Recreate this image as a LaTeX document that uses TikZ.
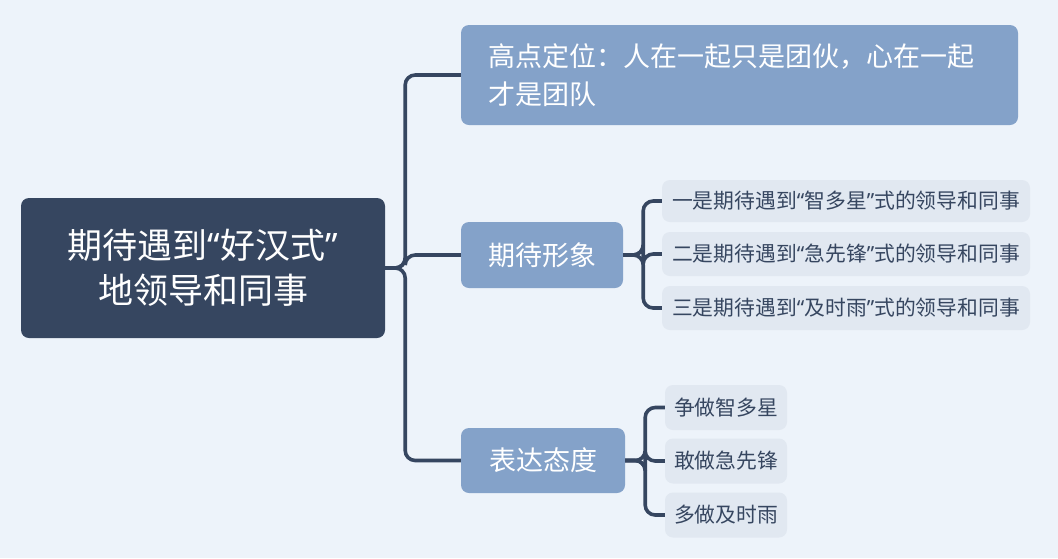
\documentclass[tikz,border=0pt]{standalone}
\usepackage{fontspec}
\setmainfont{Noto Sans CJK SC}
\newfontfamily\quotefont{Noto Sans}
\newcommand{\mmoq}{{\quotefont“}}
\newcommand{\mmcq}{{\quotefont”}}
\usetikzlibrary{positioning}
\definecolor{mmdark}{RGB}{54,70,96}
\definecolor{mmmid}{RGB}{132,162,201}
\definecolor{mmlight}{RGB}{225,232,241}
\definecolor{mmback}{RGB}{237,243,250}

\begin{document}
\begin{tikzpicture}[
  x=1pt, y=-1pt,
  rootbox/.style={fill=mmdark, text=white, rounded corners=8pt, align=center,
    font=\fontsize{35}{45}\selectfont, minimum width=364pt, minimum height=140pt},
  mainbox/.style={fill=mmmid, text=white, rounded corners=8pt,
    font=\fontsize{27}{38}\selectfont, minimum height=66pt},
  subbox/.style={fill=mmlight, text=mmdark, rounded corners=8pt, inner sep=0pt,
    font=\fontsize{20.8}{24}\selectfont, minimum height=44pt},
  link/.style={draw=mmdark, line width=3.6pt, rounded corners=10pt}
]
\fill[mmback] (0,0) rectangle (1058,558);
% root and main branches
\node[rootbox] (root) at (203,268) {期待遇到\mmoq 好汉式\mmcq\\地领导和同事};
\node[mainbox, align=left, text width=503pt, inner xsep=27pt, minimum height=100pt] (pos) at (739.5,75) {高点定位：人在一起只是团伙，心在一起\\才是团队};
\node[mainbox, minimum width=162pt] (image) at (542,255) {期待形象};
\node[mainbox, minimum width=164pt, minimum height=65pt] (attitude) at (543,460.5) {表达态度};
% sub branches
\node[subbox, minimum width=368pt, minimum height=42pt] (imgA) at (846,201) {一是期待遇到\mmoq 智多星\mmcq 式的领导和同事};
\node[subbox, minimum width=368pt] (imgB) at (846,254) {二是期待遇到\mmoq 急先锋\mmcq 式的领导和同事};
\node[subbox, minimum width=368pt] (imgC) at (846,308) {三是期待遇到\mmoq 及时雨\mmcq 式的领导和同事};
\node[subbox, minimum width=122pt, minimum height=45pt] (attA) at (726,407.5) {争做智多星};
\node[subbox, minimum width=122pt, minimum height=45pt] (attB) at (726,461) {敢做急先锋};
\node[subbox, minimum width=122pt, minimum height=45pt] (attC) at (726,515) {多做及时雨};
% connectors
\foreach \n in {pos,image,attitude}
  \draw[link] (root.east) -- ++(20,0) |- (\n.west);
\foreach \n in {imgA,imgB,imgC}
  \draw[link] (image.east) -- ++(20,0) |- (\n.west);
\foreach \n in {attA,attB,attC}
  \draw[link] (attitude.east) -- ++(20,0) |- (\n.west);
\end{tikzpicture}
\end{document}
